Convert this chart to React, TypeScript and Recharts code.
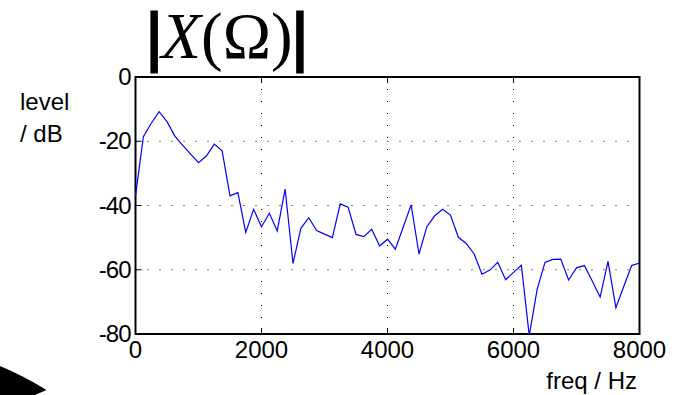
import React from "react";
import { LineChart, Line, XAxis, YAxis, CartesianGrid, ReferenceArea } from "recharts";

const freqStep = 125;
const levels = [
  -37, -18.6, -14.4, -10.8, -13.9, -18.4, -21.3, -24.0, -26.7, -24.6,
  -20.9, -23.0, -37.0, -36.0, -48.4, -41.2, -46.6, -42.4, -47.9, -34.9,
  -58.0, -47.1, -43.8, -47.8, -48.9, -50.0, -39.5, -40.5, -49.0, -49.7,
  -47.4, -52.6, -50.5, -53.6, -46.7, -39.8, -55.1, -46.6, -43.2, -41.2,
  -43.0, -49.9, -51.8, -55.1, -61.4, -60.1, -57.7, -63.1, -60.8, -58.6,
  -80.5, -66.1, -57.7, -56.8, -56.7, -63.2, -59.4, -58.7, -63.5, -68.5,
  -57.4, -71.8, -65.2, -58.7, -57.9,
];
const freqs = levels.map((_, i) => i * freqStep);
const xTicks = [0, 2000, 4000, 6000, 8000];
const yTicks = [-80, -60, -40, -20, 0];

const data = freqs.map((f, i) => ({ f, v: levels[i] }));

const FONT = "'Liberation Sans', Arial, Helvetica, sans-serif";
const FS = 24;

const XTick = (props: any) => {
  const { x, y, payload, top } = props;
  return (
    <g>
      <line x1={x} x2={x} y1={y} y2={top ? y + 6 : y - 6} stroke="#000" strokeWidth={1} />
      {!top && (
        <text x={x} y={y + 24} textAnchor="middle" fontFamily={FONT} fontSize={FS} fill="#000">
          {payload.value}
        </text>
      )}
    </g>
  );
};

const YTick = (props: any) => {
  const { x, y, payload, right } = props;
  return (
    <g>
      <line x1={x} x2={right ? x - 6 : x + 6} y1={y} y2={y} stroke="#000" strokeWidth={1} />
      {!right && (
        <text x={x - 5} y={y + 8} textAnchor="end" fontFamily={FONT} fontSize={FS} fill="#000" letterSpacing={-1}>
          {payload.value}
        </text>
      )}
    </g>
  );
};

export default function App() {
  return (
    <div style={{ position: "absolute", left: 0, top: 0, width: 677, height: 395, background: "#fff" }}>
      <LineChart width={677} height={395} data={data} margin={{ top: 0, right: 0, bottom: 0, left: 0 }}>
        <CartesianGrid stroke="#000" strokeDasharray="1 11" strokeWidth={1} />
        <XAxis
          dataKey="f"
          type="number"
          domain={[0, 8000]}
          ticks={xTicks}
          height={61}
          tickSize={0}
          tickMargin={0}
          tickLine={false}
          axisLine={false}
          tick={<XTick />}
          interval={0}
        />
        <XAxis
          xAxisId="t"
          orientation="top"
          dataKey="f"
          type="number"
          domain={[0, 8000]}
          ticks={xTicks}
          height={77}
          tickSize={0}
          tickMargin={0}
          tickLine={false}
          axisLine={false}
          tick={<XTick top />}
          interval={0}
        />
        <YAxis
          type="number"
          domain={[-80, 0]}
          ticks={yTicks}
          width={135.5}
          tickSize={0}
          tickMargin={0}
          tickLine={false}
          axisLine={false}
          tick={<YTick />}
          interval={0}
          allowDataOverflow
        />
        <YAxis
          yAxisId="r"
          orientation="right"
          type="number"
          domain={[-80, 0]}
          ticks={yTicks}
          width={37.5}
          tickSize={0}
          tickMargin={0}
          tickLine={false}
          axisLine={false}
          tick={<YTick right />}
          interval={0}
        />
        <Line
          dataKey="v"
          type="linear"
          stroke="#0000ff"
          strokeWidth={1.2}
          dot={false}
          isAnimationActive={false}
        />
        <ReferenceArea x1={0} x2={8000} y1={-80} y2={0} fill="none" stroke="#000" strokeWidth={2} ifOverflow="visible" />
      </LineChart>
      <svg width={677} height={395} style={{ position: "absolute", left: 0, top: 0, pointerEvents: "none" }}>
        <text x={227} y={58} textAnchor="middle" fontFamily="'Liberation Serif', 'Times New Roman', serif" fontSize={65} fill="#000">
          <tspan fontWeight="bold" stroke="#000" strokeWidth={3}>|</tspan>
          <tspan fontStyle="italic">X</tspan>
          <tspan>(Ω)</tspan>
          <tspan fontWeight="bold" stroke="#000" strokeWidth={3}>|</tspan>
        </text>
        <text x={20} y={110} fontFamily={FONT} fontSize={FS} fill="#000">level</text>
        <text x={20} y={142} fontFamily={FONT} fontSize={FS} fill="#000">/ dB</text>
        <text x={637} y={389} textAnchor="end" fontFamily={FONT} fontSize={FS} fill="#000">freq / Hz</text>
        <path d="M0,366 Q24,376 46.5,390 L35,395 L0,395 Z" fill="#000" />
      </svg>
    </div>
  );
}
